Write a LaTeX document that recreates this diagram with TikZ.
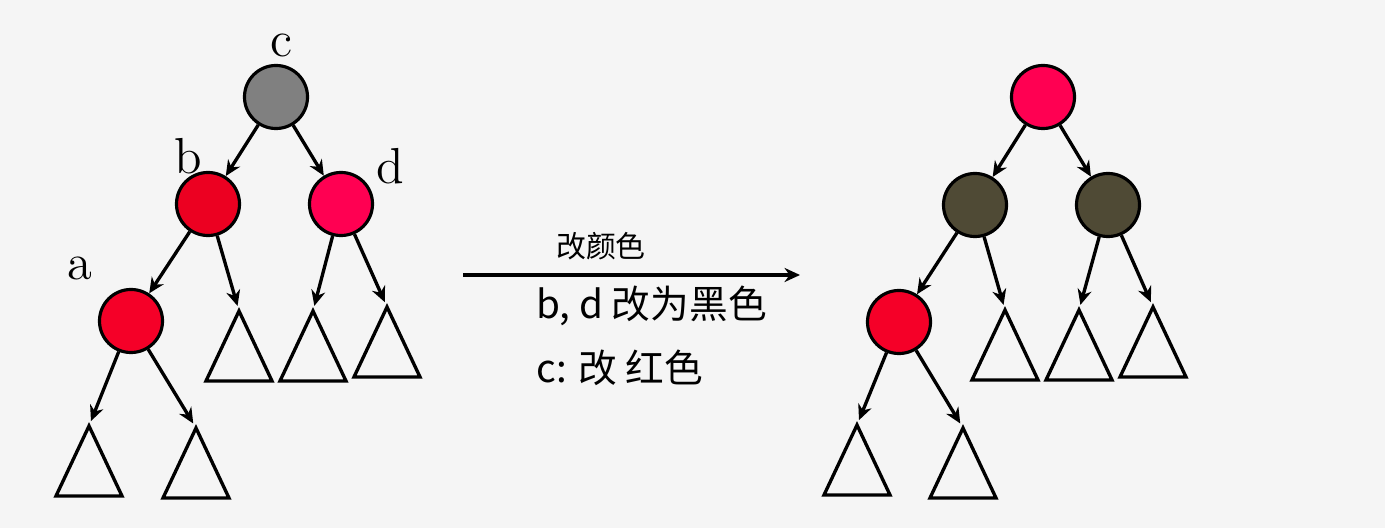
\documentclass[tikz,border=0pt]{standalone}
\usepackage{fontspec}
\newfontfamily\cjk{Noto Sans CJK SC}
\usetikzlibrary{arrows.meta, positioning, calc}
\usepackage{xcolor}
\definecolor{bgcol}{HTML}{F5F5F5}
\definecolor{nodegray}{HTML}{808080}
\definecolor{nodered}{HTML}{EC0021}
\definecolor{nodepink}{HTML}{FF0052}
\definecolor{nodeleaf}{HTML}{F50028}
\definecolor{nodeblack}{HTML}{4F4A35}
\tikzset{
  tnode/.style={circle, draw, line width=0.9pt, minimum size=0.63cm, inner sep=0pt},
  arr/.style={-{Stealth[length=4.4pt, width=4pt]}, line width=0.95pt},
  tri/.style={draw, line width=0.95pt, line join=miter},
  lbl/.style={font=\Large},
  note/.style={font=\cjk\fontsize{11}{13}\selectfont, anchor=west},
}
% subtree triangle: name, apex x, apex y
\newcommand{\subtri}[3]{%
  \coordinate (#1) at (#2,#3);
  \draw[tri] (#1) -- ++(-33,70) -- ++(66,0) -- cycle;}

\begin{document}
\begin{tikzpicture}[x=0.01cm, y=-0.01cm]
  \fill[bgcol] (0,0) rectangle (1385,528);

  % left tree
  \node[tnode, fill=nodegray] (c) at (276,97) {};
  \node[tnode, fill=nodered] (b) at (208,204) {};
  \node[tnode, fill=nodepink] (d) at (341,204) {};
  \node[tnode, fill=nodeleaf] (a) at (131,321) {};
  \subtri{bR}{239}{311}
  \subtri{dL}{313}{311}
  \subtri{dR}{387}{307}
  \subtri{aL}{89}{426}
  \subtri{aR}{196}{428}

  \node[lbl] (lc) at (282,45) {c};
  \node[lbl] (lb) at (188,156) {b};
  \node[lbl] (ld) at (390,166) {d};
  \node[lbl] (la) at (80,268) {a};

  \draw[arr] (c) -- (b);
  \draw[arr] (c) -- (d);
  \draw[arr] (b) -- (a);
  \draw[arr, shorten >=1.5pt] (b) -- (bR);
  \draw[arr, shorten >=1.5pt] (d) -- (dL);
  \draw[arr, shorten >=1.5pt] (d) -- (dR);
  \draw[arr, shorten >=1.5pt] (a) -- (aL);
  \draw[arr, shorten >=1.5pt] (a) -- (aR);

  % transformation
  \coordinate (mfrom) at (463,275);
  \coordinate (mto) at (800,275);
  \draw[arr] (mfrom) -- (mto);
  \node[font=\cjk\fontsize{8.5}{10}\selectfont] (mtitle) at (601,246) {改颜色};
  \node[note] (step1) at (524,306) {b, d 改为黑色};
  \node[note] (step2) at (524,368) {c: 改 红色};

  % right tree
  \node[tnode, fill=nodepink] (c2) at (1043,97) {};
  \node[tnode, fill=nodeblack] (b2) at (975,205) {};
  \node[tnode, fill=nodeblack] (d2) at (1108,205) {};
  \node[tnode, fill=nodeleaf] (a2) at (899,322) {};
  \subtri{bR2}{1005}{310}
  \subtri{dL2}{1079}{310}
  \subtri{dR2}{1153}{307}
  \subtri{aL2}{857}{425}
  \subtri{aR2}{963}{428}

  \draw[arr] (c2) -- (b2);
  \draw[arr] (c2) -- (d2);
  \draw[arr] (b2) -- (a2);
  \draw[arr, shorten >=1.5pt] (b2) -- (bR2);
  \draw[arr, shorten >=1.5pt] (d2) -- (dL2);
  \draw[arr, shorten >=1.5pt] (d2) -- (dR2);
  \draw[arr, shorten >=1.5pt] (a2) -- (aL2);
  \draw[arr, shorten >=1.5pt] (a2) -- (aR2);
\end{tikzpicture}
\end{document}
